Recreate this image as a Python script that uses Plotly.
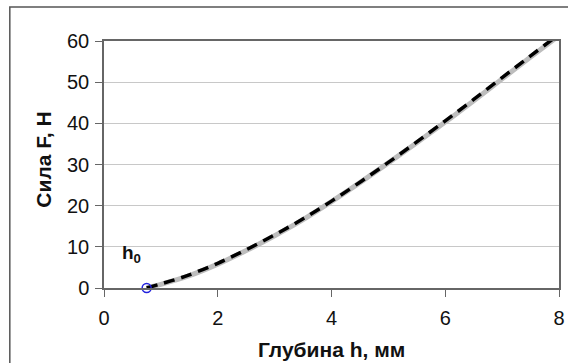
import plotly.graph_objects as go

# Depth h (mm) vs force F (N): measured curve and calculated curve
h_meas = [0.75, 1.0, 1.25, 1.5, 2.0, 2.5, 3.0, 3.5, 4.0, 4.5, 5.0, 5.5, 6.0, 6.5, 7.0, 7.5, 8.0]
f_meas = [0.0, 0.9, 1.9, 3.0, 5.8, 9.1, 12.7, 16.6, 21.0, 25.6, 30.4, 35.3, 40.3, 45.5, 50.8, 56.1, 61.3]

h_calc = [0.75, 1.0, 1.25, 1.5, 2.0, 2.5, 3.0, 3.5, 4.0, 4.5, 5.0, 5.5, 6.0, 6.5, 7.0, 7.5, 8.0]
f_calc = [0.0, 1.0, 2.0, 3.2, 6.0, 9.3, 12.9, 16.8, 21.1, 25.7, 30.5, 35.5, 40.6, 45.8, 51.1, 56.4, 61.6]

h0_point = [0.75]
f0_point = [0.0]

x_ticks = [0, 2, 4, 6, 8]
y_ticks = [0, 10, 20, 30, 40, 50, 60]

x_title = "<b>Глубина h, мм</b>"
y_title = "<b>Сила F, Н</b>"

fig = go.Figure()

fig.add_trace(go.Scatter(
    x=h_meas, y=f_meas, mode="lines",
    line=dict(color="#bdbdbd", width=5, shape="spline"),
    showlegend=False, cliponaxis=False,
))
fig.add_trace(go.Scatter(
    x=h_calc, y=f_calc, mode="lines",
    line=dict(color="#000000", width=3.5, dash="11px,7px", shape="spline"),
    showlegend=False, cliponaxis=False,
))
fig.add_trace(go.Scatter(
    x=h0_point, y=f0_point, mode="markers",
    marker=dict(symbol="circle-open", size=9, color="#2222dd", line=dict(width=1.5)),
    showlegend=False, cliponaxis=False,
))

font_family = "Liberation Sans, Arial, sans-serif"

fig.add_annotation(
    x=0.49, y=8.3, xref="x", yref="y",
    text="<b>h<sub>0</sub></b>", showarrow=False,
    font=dict(family=font_family, size=19, color="#111111"),
)

# Axis titles
fig.add_annotation(
    x=0.5, y=-0.251, xref="paper", yref="paper",
    text=x_title, showarrow=False, xanchor="center", yanchor="middle",
    font=dict(family=font_family, size=21, color="#111111"),
)
fig.add_annotation(
    x=-0.135, y=0.518, xref="paper", yref="paper",
    text=y_title, showarrow=False, textangle=-90, xanchor="center", yanchor="middle",
    font=dict(family=font_family, size=21, color="#111111"),
)

# Outer frame around the chart
fig.add_shape(
    type="rect", xref="paper", yref="paper",
    x0=-0.207, x1=1.2, y0=-0.5, y1=1.138,
    line=dict(color="#555555", width=1.5), fillcolor="rgba(0,0,0,0)",
)

axis_font = dict(family=font_family, size=20, color="#111111")

fig.update_layout(
    width=568, height=363,
    margin=dict(l=104, r=9, t=41, b=75),
    paper_bgcolor="white", plot_bgcolor="white",
    xaxis=dict(
        range=[0, 8], tickvals=x_ticks, ticks="outside", ticklen=7,
        tickcolor="#666666", showline=True, linecolor="#666666", linewidth=1.5,
        mirror=True, showgrid=False, zeroline=False, automargin=False,
        tickfont=axis_font, ticklabelstandoff=4,
    ),
    yaxis=dict(
        range=[0, 60], tickvals=y_ticks, ticks="outside", ticklen=7,
        tickcolor="#666666", showline=True, linecolor="#666666", linewidth=1.5,
        mirror=True, showgrid=True, gridcolor="#c8c8c8", gridwidth=1,
        zeroline=False, automargin=False, tickfont=axis_font, ticklabelstandoff=2,
    ),
)

fig.write_html("out.html")
